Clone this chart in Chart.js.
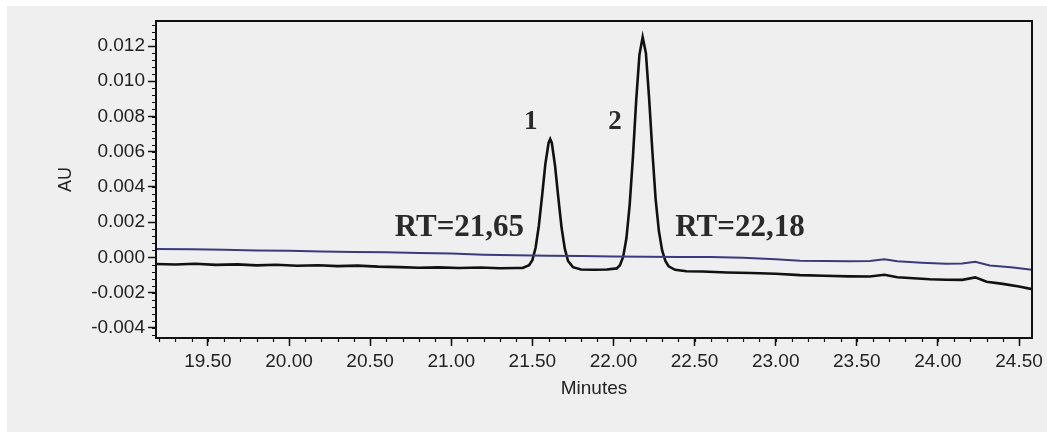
<!DOCTYPE html>
<html>
<head>
<meta charset="utf-8">
<script src="https://cdn.jsdelivr.net/npm/chart.js@4.4.0/dist/chart.umd.min.js"></script>
<style>
  html, body { margin: 0; padding: 0; background: #ffffff; }
  #wrap { position: absolute; left: 7px; top: 6px; width: 1040px; height: 426px; background: #efefef; }
</style>
</head>
<body>
<div id="wrap"><canvas id="chart" width="1040" height="426"></canvas></div>
<script>
// ===== data =====
const blueTimes = [19.18, 19.40, 19.60, 19.80, 20.00, 20.20, 20.40, 20.60, 20.80, 21.00, 21.20, 21.40, 21.60, 21.80, 22.00, 22.20, 22.40, 22.60, 22.80, 23.00, 23.15, 23.30, 23.45, 23.58, 23.67, 23.75, 23.90, 24.05, 24.15, 24.23, 24.32, 24.45, 24.58];
const blueValues = [0.00048, 0.00046, 0.00044, 0.00040, 0.00038, 0.00034, 0.00031, 0.00029, 0.00026, 0.00022, 0.00015, 0.00012, 0.00010, 0.00008, 0.00006, 0.00004, 0.00003, 0.00002, -0.00002, -0.00010, -0.00018, -0.00020, -0.00022, -0.00020, -0.00010, -0.00022, -0.00030, -0.00036, -0.00034, -0.00024, -0.00045, -0.00056, -0.00070];

const blackTimes = [19.18, 19.30, 19.42, 19.55, 19.68, 19.80, 19.92, 20.05, 20.18, 20.30, 20.42, 20.55, 20.68, 20.80, 20.92, 21.05, 21.18, 21.30, 21.40, 21.44,
  21.48, 21.50, 21.52, 21.54, 21.56, 21.58, 21.60, 21.61, 21.62, 21.64, 21.66, 21.68, 21.70, 21.72, 21.75, 21.80, 21.88, 21.96, 22.02,
  22.04, 22.06, 22.08, 22.10, 22.12, 22.14, 22.16, 22.18, 22.20, 22.22, 22.24, 22.26, 22.28, 22.30, 22.32, 22.34, 22.38, 22.45,
  22.55, 22.70, 22.85, 23.00, 23.15, 23.30, 23.45, 23.58, 23.67, 23.75, 23.85, 23.95, 24.05, 24.15, 24.23, 24.30, 24.40, 24.50, 24.58];
const blackValues = [-0.00037, -0.00040, -0.00036, -0.00042, -0.00039, -0.00045, -0.00041, -0.00047, -0.00044, -0.00049, -0.00046, -0.00052, -0.00055, -0.00058, -0.00056, -0.00060, -0.00057, -0.00061, -0.00060, -0.00060,
  -0.00044, -0.00015, 0.00055, 0.0018, 0.0035, 0.0053, 0.0065, 0.00672, 0.0065, 0.0052, 0.0034, 0.0017, 0.0005, -0.0002, -0.00055, -0.00068, -0.00070, -0.00068, -0.00062,
  -0.00044, 0.00004, 0.0011, 0.0030, 0.0057, 0.0089, 0.0115, 0.01251, 0.0116, 0.0090, 0.0060, 0.0033, 0.0015, 0.0004, -0.0002, -0.0005, -0.0007, -0.00078,
  -0.00080, -0.00085, -0.00088, -0.00092, -0.00100, -0.00104, -0.00107, -0.00108, -0.00098, -0.00112, -0.00118, -0.00124, -0.00126, -0.00127, -0.00113, -0.00138, -0.00150, -0.00165, -0.00180];

const xTickValues = [19.5, 20.0, 20.5, 21.0, 21.5, 22.0, 22.5, 23.0, 23.5, 24.0, 24.5];
const yTickValues = [-0.004, -0.002, 0.000, 0.002, 0.004, 0.006, 0.008, 0.010, 0.012];

// peak labels: [text, x (min), y (AU), font size]
const peakLabels = [
  ["1", 21.49, 0.0077, 27],
  ["2", 22.01, 0.0077, 27],
  ["RT=21,65", 21.05, 0.00167, 31],
  ["RT=22,18", 22.78, 0.00167, 31],
];

const X_MIN = 19.18, X_MAX = 24.58;
const Y_MIN = -0.00457, Y_MAX = 0.01342;

function toPoints(ts, vs) {
  return ts.map((t, i) => ({ x: t, y: vs[i] }));
}

// frame + minor ticks + peak labels
const decorPlugin = {
  id: "decor",
  afterDraw(chart) {
    const { ctx, chartArea: a, scales } = chart;
    ctx.save();
    ctx.strokeStyle = "#111";
    ctx.lineWidth = 2;
    ctx.strokeRect(a.left, a.top, a.right - a.left, a.bottom - a.top);

    // minor ticks
    ctx.lineWidth = 1.2;
    ctx.beginPath();
    for (let v = 19.2; v <= X_MAX + 1e-9; v += 0.1) {
      const px = Math.round(scales.x.getPixelForValue(v)) + 0.5;
      ctx.moveTo(px, a.bottom);
      ctx.lineTo(px, a.bottom + 4);
    }
    for (let v = -0.0044; v <= Y_MAX + 1e-9; v += 0.0004) {
      const py = Math.round(scales.y.getPixelForValue(v)) + 0.5;
      ctx.moveTo(a.left - 4, py);
      ctx.lineTo(a.left, py);
    }
    ctx.stroke();

    // peak labels
    ctx.fillStyle = "#2a2a2a";
    ctx.textAlign = "center";
    ctx.textBaseline = "middle";
    peakLabels.forEach(([txt, x, y, size]) => {
      ctx.font = `bold ${size}px 'Liberation Serif', 'Times New Roman', serif`;
      ctx.fillText(txt, scales.x.getPixelForValue(x), scales.y.getPixelForValue(y));
    });
    ctx.restore();
  },
};

const tickFont = { family: "'Liberation Sans', Arial, sans-serif", size: 19 };

new Chart(document.getElementById("chart"), {
  type: "line",
  data: {
    datasets: [
      {
        label: "blank",
        data: toPoints(blueTimes, blueValues),
        borderColor: "#3b3a7e",
        borderWidth: 2,
        pointRadius: 0,
        tension: 0,
      },
      {
        label: "sample",
        data: toPoints(blackTimes, blackValues),
        borderColor: "#111111",
        borderWidth: 2.6,
        pointRadius: 0,
        tension: 0,
      },
    ],
  },
  options: {
    animation: false,
    responsive: false,
    events: [],
    layout: { padding: { left: 45, top: 15, right: 15, bottom: 0 } },
    plugins: { legend: { display: false }, tooltip: { enabled: false } },
    scales: {
      x: {
        type: "linear",
        min: X_MIN,
        max: X_MAX,
        afterBuildTicks: (s) => { s.ticks = xTickValues.map(v => ({ value: v })); },
        afterFit: (s) => { s.height = 94; s.paddingLeft = 0; s.paddingRight = 0; },
        border: { display: true, color: "#111", width: 2 },
        grid: { drawOnChartArea: false, drawTicks: true, tickLength: 8, tickColor: "#111", tickWidth: 1.5 },
        ticks: {
          color: "#222",
          font: tickFont,
          padding: 4,
          maxRotation: 0,
          autoSkip: false,
          callback: (v) => Number(v).toFixed(2),
        },
        title: {
          display: true,
          text: "Minutes",
          color: "#222",
          font: { family: "'Liberation Sans', Arial, sans-serif", size: 19 },
          padding: { top: 4, bottom: 32 },
        },
      },
      y: {
        min: Y_MIN,
        max: Y_MAX,
        afterBuildTicks: (s) => { s.ticks = yTickValues.map(v => ({ value: v })); },
        afterFit: (s) => { s.width = 104; s.paddingTop = 0; s.paddingBottom = 0; },
        border: { display: true, color: "#111", width: 2 },
        grid: { drawOnChartArea: false, drawTicks: true, tickLength: 8, tickColor: "#111", tickWidth: 1.5 },
        ticks: {
          color: "#222",
          font: tickFont,
          padding: 3,
          autoSkip: false,
          callback: (v) => Number(v).toFixed(3),
        },
        title: {
          display: true,
          text: "AU",
          color: "#222",
          font: { family: "'Liberation Sans', Arial, sans-serif", size: 18 },
          padding: { top: 3, bottom: 3 },
        },
      },
    },
  },
  plugins: [decorPlugin],
});
</script>
</body>
</html>
